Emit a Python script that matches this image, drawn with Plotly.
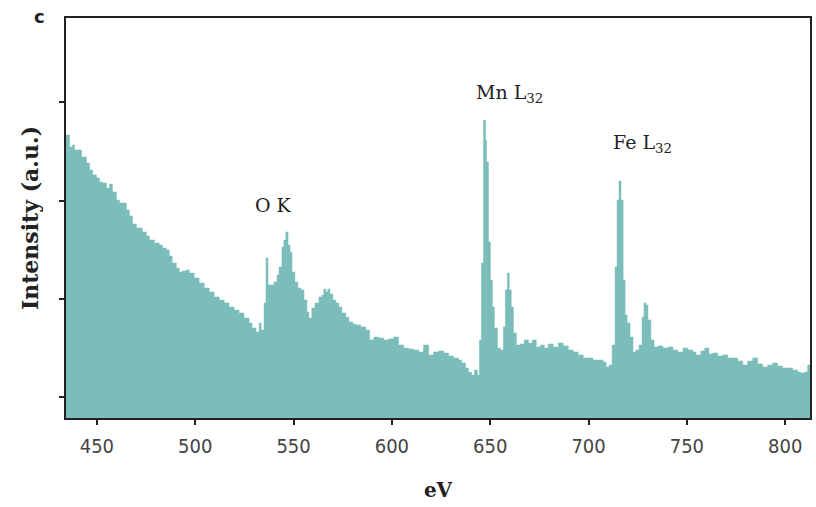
import plotly.graph_objects as go

energy_ev = [
    434.3, 436.1, 437.6, 438.6, 440.2, 442.2, 442.7, 444.7, 446.3, 447.8,
    449.8, 451.3, 452.8, 454.9, 456.4, 457.9, 459.9, 461.5, 465.0, 466.5,
    468.1, 470.1, 473.1, 475.2, 476.7, 479.2, 481.7, 483.3, 485.3, 486.8,
    488.3, 490.4, 491.9, 493.4, 495.5, 497.0, 499.5, 502.0, 504.6, 507.1,
    509.6, 512.2, 514.7, 517.2, 519.8, 522.3, 524.8, 527.4, 528.9, 530.9,
    532.5, 533.5, 535.0, 536.0, 537.0, 538.5, 540.1, 541.6, 542.6, 544.1,
    545.1, 546.1, 547.2, 548.2, 549.2, 550.7, 552.2, 553.8, 555.3, 556.8,
    557.8, 559.3, 560.9, 562.9, 564.4, 565.4, 566.4, 567.4, 568.5, 570.0,
    571.5, 573.0, 574.6, 576.6, 578.1, 580.1, 581.6, 584.2, 586.7, 588.7,
    590.8, 593.3, 595.8, 598.4, 600.9, 603.4, 606.0, 608.5, 611.0, 613.6,
    616.1, 618.7, 621.2, 623.7, 626.3, 628.8, 631.3, 633.9, 635.4, 637.4,
    638.9, 640.5, 642.0, 643.5, 644.5, 645.5, 646.6, 647.6, 648.1, 649.1,
    650.1, 651.1, 652.1, 653.7, 655.2, 656.7, 657.7, 658.7, 659.7, 660.7,
    661.8, 663.3, 665.3, 667.3, 669.4, 671.4, 673.4, 675.5, 677.5, 679.5,
    682.0, 684.6, 687.1, 689.7, 692.2, 694.7, 697.3, 699.8, 702.3, 704.9,
    707.4, 708.9, 710.5, 712.0, 713.5, 714.5, 715.5, 716.5, 717.6, 718.6,
    719.6, 721.1, 722.6, 724.1, 725.7, 727.2, 728.2, 729.2, 730.2, 731.7,
    733.3, 735.3, 737.8, 740.4, 742.9, 745.4, 748.0, 750.5, 753.0, 754.6,
    757.1, 759.1, 761.2, 763.2, 765.7, 768.2, 770.8, 773.3, 775.9, 778.4,
    780.9, 783.5, 786.0, 788.5, 791.1, 793.6, 796.1, 798.7, 801.2, 803.8,
    806.3, 807.8, 809.8, 811.4, 813.0,
]

intensity = [
    3.666, 3.544, 3.564, 3.514, 3.514, 3.442, 3.442, 3.381, 3.310, 3.260,
    3.229, 3.188, 3.178, 3.127, 3.168, 3.087, 3.005, 2.975, 2.904, 2.843,
    2.762, 2.721, 2.680, 2.640, 2.599, 2.568, 2.548, 2.518, 2.497, 2.436,
    2.365, 2.314, 2.274, 2.284, 2.294, 2.263, 2.213, 2.162, 2.111, 2.070,
    2.020, 1.989, 1.959, 1.918, 1.888, 1.857, 1.806, 1.755, 1.705, 1.664,
    1.755, 1.684, 1.959, 2.416, 2.142, 2.142, 2.172, 2.243, 2.324, 2.528,
    2.599, 2.680, 2.548, 2.477, 2.274, 2.172, 2.111, 2.091, 1.989, 1.867,
    1.806, 1.908, 1.959, 2.020, 2.040, 2.101, 2.070, 2.101, 2.050, 1.989,
    1.959, 1.918, 1.857, 1.816, 1.766, 1.745, 1.735, 1.715, 1.684, 1.583,
    1.613, 1.603, 1.583, 1.593, 1.613, 1.532, 1.501, 1.491, 1.481, 1.461,
    1.532, 1.430, 1.461, 1.471, 1.451, 1.420, 1.400, 1.379, 1.349, 1.298,
    1.257, 1.227, 1.277, 1.227, 1.583, 2.365, 3.818, 3.615, 3.392, 2.579,
    2.192, 1.918, 1.705, 1.501, 1.481, 1.715, 2.091, 2.263, 2.091, 1.918,
    1.654, 1.532, 1.542, 1.583, 1.552, 1.583, 1.511, 1.532, 1.501, 1.542,
    1.511, 1.552, 1.522, 1.481, 1.461, 1.430, 1.400, 1.400, 1.379, 1.379,
    1.359, 1.308, 1.328, 1.532, 2.324, 3.005, 3.199, 3.005, 2.192, 1.837,
    1.755, 1.613, 1.461, 1.481, 1.532, 1.816, 1.959, 1.938, 1.786, 1.583,
    1.511, 1.522, 1.501, 1.511, 1.481, 1.461, 1.501, 1.481, 1.461, 1.430,
    1.471, 1.501, 1.440, 1.451, 1.420, 1.430, 1.400, 1.400, 1.369, 1.328,
    1.369, 1.400, 1.339, 1.308, 1.328, 1.349, 1.318, 1.298, 1.298, 1.278,
    1.257, 1.247, 1.257, 1.328, 1.298,
]

x_ticks = [450, 500, 550, 600, 650, 700, 750, 800]
y_ticks = [1, 2, 3, 4]

peak_labels = ["O K", "Mn L<sub>32</sub>", "Fe L<sub>32</sub>"]
peak_label_ev = [539.8, 659.8, 727.6]
peak_label_int = [2.95, 4.09, 3.58]

fill_color = "#7bbdba"
serif = "DejaVu Serif"

fig = go.Figure()
fig.add_trace(go.Scatter(
    x=energy_ev, y=intensity, mode="lines", line_shape="hv",
    line=dict(color=fill_color, width=0.5), fill="tozeroy",
    fillcolor=fill_color, showlegend=False, hoverinfo="skip",
))

for txt, xv, yv in zip(peak_labels, peak_label_ev, peak_label_int):
    fig.add_annotation(x=xv, y=yv, text=txt, showarrow=False,
                       font=dict(family=serif, size=19, color="#222"))

fig.add_annotation(xref="paper", yref="paper", x=-0.035, y=1.005, text="<b>c</b>",
                   showarrow=False, xanchor="center", yanchor="middle",
                   font=dict(family="DejaVu Sans", size=18, color="#222"))

fig.update_layout(
    width=816, height=507,
    margin=dict(l=66, r=4, t=18, b=89),
    paper_bgcolor="white", plot_bgcolor="white",
)
fig.update_xaxes(
    range=[434.3, 812.6], tickvals=x_ticks, ticks="outside", ticklen=5,
    tickwidth=2, tickcolor="#222", showline=True, linecolor="#222", linewidth=2,
    mirror=True, showgrid=False, zeroline=False, ticklabelstandoff=4,
    tickfont=dict(family="DejaVu Sans Condensed, DejaVu Sans", size=20, color="#444"),
    title=dict(text="<b>eV</b>", font=dict(family=serif, size=20, color="#222"), standoff=26),
)
fig.update_yaxes(
    range=[0.79, 4.855], tickvals=y_ticks, showticklabels=False, ticks="outside",
    ticklen=5, tickwidth=2, tickcolor="#222", showline=True, linecolor="#222",
    linewidth=2, mirror=True, showgrid=False, zeroline=False,
    title=dict(text="<b>Intensity (a.u.)</b>", font=dict(family=serif, size=22, color="#222"), standoff=14),
)

fig.write_html("out.html")
